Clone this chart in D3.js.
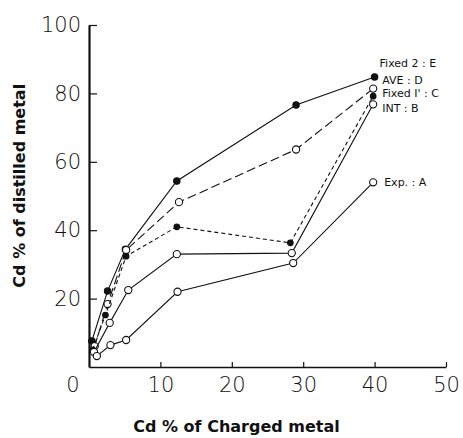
<!DOCTYPE html>
<html><head><meta charset="utf-8">
<script src="https://cdn.jsdelivr.net/npm/d3@7"></script>
<style>
body{margin:0;background:#fff;}
svg{display:block;}
.num{font-family:"DejaVu Sans",sans-serif;font-weight:200;font-size:21px;fill:#111;}
.ttl{font-family:"DejaVu Sans",sans-serif;font-weight:bold;font-size:16px;fill:#111;}
.lg{font-family:"DejaVu Sans",sans-serif;font-size:11px;fill:#111;}
</style>
</head><body>
<script>
// ---- data ----
const seriesNames = ["Fixed 2 : E", "AVE : D", "Fixed I' : C", "INT : B", "Exp. : A"];
const xE = [0.4, 2.6, 5.1, 12.3, 29.0, 40.0];
const yE = [7.6, 22.2, 34.4, 54.4, 76.6, 84.8];
const xD = [0.8, 2.6, 5.2, 12.6, 29.0, 39.8];
const yD = [6.1, 18.4, 34.2, 48.2, 63.6, 81.4];
const xC = [0.5, 2.3, 5.2, 12.3, 28.2, 39.8];
const yC = [5.0, 15.2, 32.4, 41.0, 36.3, 79.2];
const xB = [0.7, 2.9, 5.5, 12.3, 28.4, 39.8];
const yB = [4.4, 12.9, 22.5, 33.0, 33.3, 76.8];
const xA = [1.1, 3.0, 5.2, 12.4, 28.6, 39.8];
const yA = [3.2, 6.4, 7.9, 22.0, 30.4, 54.0];
const xTicks = [10, 20, 30, 40, 50];
const yTicks = [20, 40, 60, 80, 100];
const originLabel = "0";
const xTitle = "Cd % of Charged metal";
const yTitle = "Cd % of distilled metal";

// ---- styles ----
const styles = [
  {x: xE, y: yE, dash: null, fill: "#111", r: 3.2, lx: 5, ly: -14},
  {x: xD, y: yD, dash: "9,4", fill: "#fff", r: 3.6, lx: 9, ly: -8},
  {x: xC, y: yC, dash: "4,3", fill: "#111", r: 2.8, lx: 9, ly: -2.5},
  {x: xB, y: yB, dash: null, fill: "#fff", r: 3.6, lx: 9, ly: 4},
  {x: xA, y: yA, dash: null, fill: "#fff", r: 3.6, lx: 11, ly: 0}
];

const W = 463, H = 438;
const svg = d3.select("body").append("svg").attr("width", W).attr("height", H);
const x = d3.scaleLinear().domain([0, 50]).range([89, 446]);
const y = d3.scaleLinear().domain([0, 100]).range([367, 25]);

// x axis
const gx = svg.append("g").attr("transform", `translate(0,${y(0)})`)
  .call(d3.axisBottom(x).tickValues(xTicks).tickSize(-5).tickPadding(10).tickSizeOuter(0).tickFormat(d3.format("d")));
gx.select(".domain").attr("stroke", "#111").attr("stroke-width", 1.5);
gx.selectAll(".tick line").attr("stroke", "#111").attr("stroke-width", 1.2);
gx.selectAll(".tick text").attr("class", "num").attr("font-family", null).attr("font-size", null);

// y axis
const gy = svg.append("g").attr("transform", `translate(${x(0)},0)`)
  .call(d3.axisLeft(y).tickValues(yTicks).tickSize(-8).tickPadding(8).tickSizeOuter(0).tickFormat(d3.format("d")));
gy.select(".domain").attr("stroke", "#111").attr("stroke-width", 2.2);
gy.selectAll(".tick line").attr("stroke", "#111").attr("stroke-width", 1.2);
gy.selectAll(".tick text").attr("class", "num").attr("font-family", null).attr("font-size", null);

// origin label
svg.append("text").attr("class", "num").attr("x", x(0) - 16).attr("y", y(0) + 18)
  .attr("text-anchor", "middle").attr("dy", "0.35em").text(originLabel);

// titles
svg.append("text").attr("class", "ttl").attr("x", (x(0) + x(50)) / 2).attr("y", 432)
  .attr("text-anchor", "middle").attr("dx", -31).text(xTitle);
svg.append("text").attr("class", "ttl")
  .attr("transform", `translate(25,${y(53)}) rotate(-90)`)
  .attr("text-anchor", "middle").text(yTitle);

// series
const line = d3.line().x(d => x(d[0])).y(d => y(d[1]));
styles.forEach((s, i) => {
  const pts = s.x.map((v, j) => [v, s.y[j]]);
  svg.append("path").datum(pts).attr("d", line)
    .attr("fill", "none").attr("stroke", "#111").attr("stroke-width", 1.1)
    .attr("stroke-dasharray", s.dash);
  svg.append("g").selectAll("circle").data(pts).join("circle")
    .attr("cx", d => x(d[0])).attr("cy", d => y(d[1])).attr("r", s.r)
    .attr("fill", s.fill).attr("stroke", "#111").attr("stroke-width", 1.1);
  const last = pts[pts.length - 1];
  svg.append("text").attr("class", "lg")
    .attr("x", x(last[0]) + s.lx).attr("y", y(last[1]) + s.ly).attr("dy", "0.35em")
    .text(seriesNames[i]);
});
</script>
</body></html>
